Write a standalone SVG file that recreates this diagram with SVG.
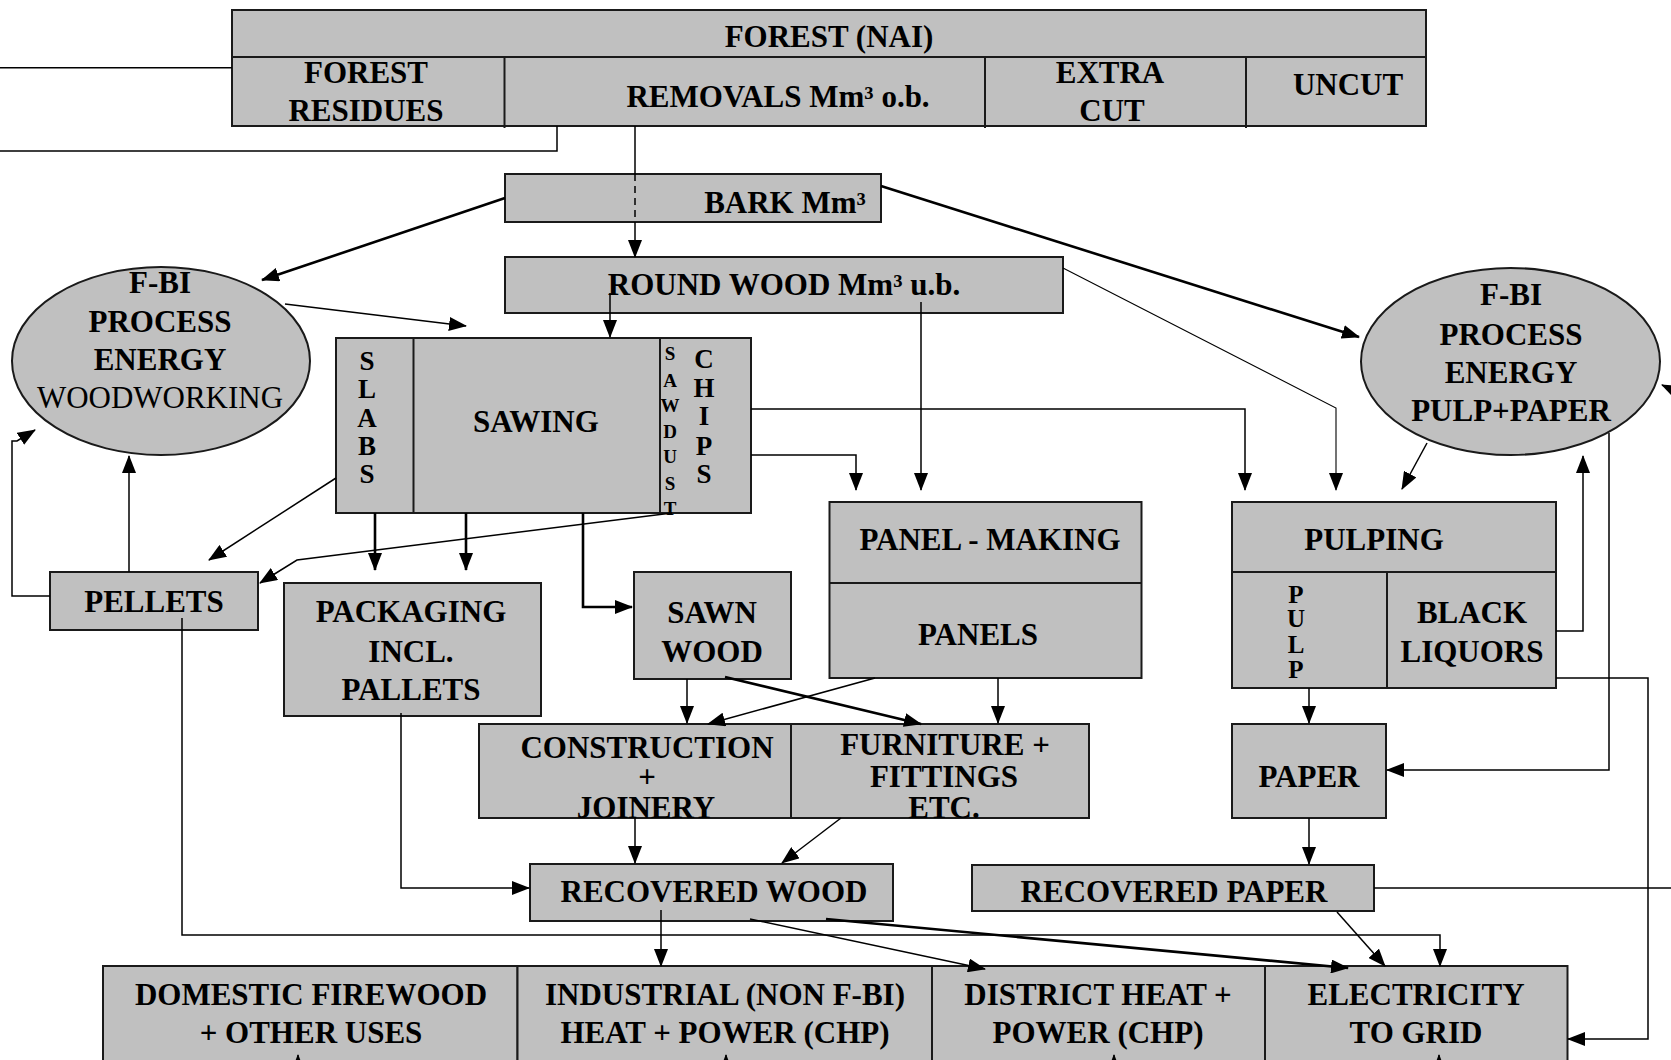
<svg xmlns="http://www.w3.org/2000/svg" width="1671" height="1060" viewBox="0 0 1671 1060">
<style>
.bx{fill:#c0c0c0;stroke:#1a1a1a;stroke-width:2}
.dv{stroke:#1a1a1a;stroke-width:2;fill:none}
text{font-family:"Liberation Serif","Times New Roman",serif;font-weight:bold;font-size:31px;fill:#000;text-anchor:middle}
.rg{font-weight:normal}
.sm{font-size:27px}
.xs{font-size:19px}
.pl{font-size:25px}
.c{stroke:#000;stroke-width:1.5;fill:none}
.t{stroke-width:2.6}
.th{stroke-width:1.1}
.a{marker-end:url(#ah)}
</style>
<defs>
<marker id="ah" markerUnits="userSpaceOnUse" markerWidth="18" markerHeight="14" refX="17" refY="7" orient="auto"><path d="M0,0 L18,7 L0,14 z" fill="#000"/></marker>
</defs>
<rect width="1671" height="1060" fill="#fff"/>

<g id="forest">
<rect class="bx" x="232" y="10" width="1194" height="116"/>
<line class="dv" x1="232" y1="57" x2="1426" y2="57"/>
<line class="dv" x1="504.5" y1="57" x2="504.5" y2="128"/>
<line class="dv" x1="985" y1="57" x2="985" y2="128"/>
<line class="dv" x1="1246" y1="57" x2="1246" y2="128"/>
<text x="829" y="47">FOREST (NAI)</text>
<text x="366" y="83">FOREST</text>
<text x="366" y="121">RESIDUES</text>
<text x="778" y="107">REMOVALS Mm³ o.b.</text>
<text x="1110" y="83">EXTRA</text>
<text x="1112" y="121">CUT</text>
<text x="1348" y="95">UNCUT</text>
</g>

<g id="bark">
<rect class="bx" x="505" y="174" width="376" height="48"/>
<text x="785" y="213">BARK Mm³</text>
</g>

<g id="roundwood">
<rect class="bx" x="505" y="257" width="558" height="56"/>
<text x="784" y="295">ROUND WOOD Mm³ u.b.</text>
</g>

<g id="energy-woodworking">
<ellipse class="bx" cx="161" cy="361" rx="149" ry="94"/>
<text x="160" y="293">F-BI</text>
<text x="160" y="332">PROCESS</text>
<text x="160" y="370">ENERGY</text>
<text class="rg" x="160" y="408">WOODWORKING</text>
</g>

<g id="energy-pulp">
<ellipse class="bx" cx="1510.5" cy="361.5" rx="149.5" ry="93.5"/>
<text x="1511" y="305">F-BI</text>
<text x="1511" y="345">PROCESS</text>
<text x="1511" y="383">ENERGY</text>
<text x="1511" y="421">PULP+PAPER</text>
</g>

<g id="sawing">
<rect class="bx" x="336" y="338" width="415" height="175"/>
<line class="dv" x1="413.5" y1="338" x2="413.5" y2="513"/>
<line class="dv" x1="660" y1="338" x2="660" y2="513"/>
<text x="536" y="432">SAWING</text>
<text class="sm" x="367" y="370">S</text>
<text class="sm" x="367" y="398">L</text>
<text class="sm" x="367" y="427">A</text>
<text class="sm" x="367" y="455">B</text>
<text class="sm" x="367" y="483">S</text>
<text class="xs" x="670" y="360">S</text>
<text class="xs" x="670" y="387">A</text>
<text class="xs" x="670" y="412">W</text>
<text class="xs" x="670" y="438">D</text>
<text class="xs" x="670" y="463">U</text>
<text class="xs" x="670" y="490">S</text>
<text class="xs" x="670" y="515">T</text>
<text class="sm" x="704" y="368">C</text>
<text class="sm" x="704" y="397">H</text>
<text class="sm" x="704" y="425">I</text>
<text class="sm" x="704" y="455">P</text>
<text class="sm" x="704" y="483">S</text>
</g>

<g id="panels">
<rect class="bx" x="829.5" y="502" width="312" height="176"/>
<line class="dv" x1="829.5" y1="583" x2="1141.5" y2="583"/>
<text x="990" y="550">PANEL - MAKING</text>
<text x="978" y="645">PANELS</text>
</g>

<g id="pulping">
<rect class="bx" x="1232" y="502" width="324" height="186"/>
<line class="dv" x1="1232" y1="572" x2="1556" y2="572"/>
<line class="dv" x1="1387" y1="572" x2="1387" y2="688"/>
<text x="1374" y="550">PULPING</text>
<text class="pl" x="1296" y="603">P</text>
<text class="pl" x="1296" y="627">U</text>
<text class="pl" x="1296" y="653">L</text>
<text class="pl" x="1296" y="678">P</text>
<text x="1472" y="623">BLACK</text>
<text x="1472" y="662">LIQUORS</text>
</g>

<g id="pellets">
<rect class="bx" x="50" y="572" width="208" height="58"/>
<text x="154" y="612">PELLETS</text>
</g>

<g id="packaging">
<rect class="bx" x="284" y="583" width="257" height="133"/>
<text x="411" y="622">PACKAGING</text>
<text x="411" y="662">INCL.</text>
<text x="411" y="700">PALLETS</text>
</g>

<g id="sawnwood">
<rect class="bx" x="634" y="572" width="157" height="107"/>
<text x="712" y="623">SAWN</text>
<text x="712" y="662">WOOD</text>
</g>

<g id="construction">
<rect class="bx" x="479" y="724" width="312" height="94"/>
<text x="647" y="758">CONSTRUCTION</text>
<text x="647" y="787">+</text>
<text x="646" y="818">JOINERY</text>
</g>

<g id="furniture">
<rect class="bx" x="791" y="724" width="298" height="94"/>
<text x="945" y="755">FURNITURE +</text>
<text x="944" y="787">FITTINGS</text>
<text x="944" y="818">ETC.</text>
</g>

<g id="paper">
<rect class="bx" x="1232" y="724" width="154" height="94"/>
<text x="1309" y="787">PAPER</text>
</g>

<g id="recoveredwood">
<rect class="bx" x="530" y="864" width="363" height="57"/>
<text x="714" y="902">RECOVERED WOOD</text>
</g>

<g id="recoveredpaper">
<rect class="bx" x="972" y="865" width="402" height="46"/>
<text x="1174" y="902">RECOVERED PAPER</text>
</g>

<g id="domestic">
<rect class="bx" x="103" y="966" width="414.5" height="110"/>
<text x="311" y="1005">DOMESTIC FIREWOOD</text>
<text x="311" y="1043">+ OTHER USES</text>
</g>
<g id="industrial">
<rect class="bx" x="517.5" y="966" width="414.5" height="110"/>
<text x="725" y="1005">INDUSTRIAL (NON F-BI)</text>
<text x="725" y="1043">HEAT + POWER (CHP)</text>
</g>
<g id="district">
<rect class="bx" x="932" y="966" width="333" height="110"/>
<text x="1098" y="1005">DISTRICT HEAT +</text>
<text x="1098" y="1043">POWER (CHP)</text>
</g>
<g id="electricity">
<rect class="bx" x="1265" y="966" width="302.5" height="110"/>
<text x="1416" y="1005">ELECTRICITY</text>
<text x="1416" y="1043">TO GRID</text>
</g>

<g id="connectors">
<line class="c" x1="0" y1="67.7" x2="232" y2="67.7"/>
<polyline class="c" points="557,126 557,151 0,151"/>
<line class="c" x1="635" y1="126" x2="635" y2="174"/>
<line class="c" x1="635" y1="174" x2="635" y2="222" stroke-dasharray="7,5"/>
<line class="c a" x1="635" y1="222" x2="635" y2="257"/>
<line class="c t a" x1="505" y1="198" x2="262" y2="280"/>
<line class="c t a" x1="881" y1="186" x2="1359" y2="337"/>
<polyline class="c th a" points="1063,268 1336,408 1336,490"/>
<line class="c a" x1="921" y1="302" x2="921" y2="490"/>
<line class="c a" x1="610" y1="293" x2="610" y2="337"/>
<line class="c a" x1="285" y1="304" x2="466" y2="326"/>
<polyline class="c a" points="751,409 1245,409 1245,490"/>
<polyline class="c a" points="751,455 856,455 856,490"/>
<line class="c a" x1="336" y1="478" x2="209" y2="560"/>
<polyline class="c a" points="672,513 297,560 260,583"/>
<line class="c t a" x1="375" y1="513" x2="375" y2="570"/>
<line class="c t a" x1="466" y1="513" x2="466" y2="570"/>
<polyline class="c t a" points="583,513 583,607 632,607"/>
<line class="c a" x1="129" y1="572" x2="129" y2="456"/>
<polyline class="c a" points="50,596 12,596 12,441 17,441 35,430"/>
<polyline class="c a" points="182,618 182,935 1440,935 1440,966"/>
<polyline class="c a" points="401,713 401,888 529,888"/>
<line class="c a" x1="687" y1="679" x2="687" y2="723"/>
<line class="c t a" x1="725" y1="677" x2="921" y2="724"/>
<line class="c a" x1="875" y1="678" x2="708" y2="724"/>
<line class="c a" x1="998" y1="678" x2="998" y2="723"/>
<line class="c a" x1="635" y1="818" x2="635" y2="863"/>
<line class="c a" x1="841" y1="818" x2="782" y2="863"/>
<line class="c a" x1="661" y1="910" x2="661" y2="966"/>
<line class="c a" x1="750" y1="919" x2="985" y2="969"/>
<line class="c t a" x1="826" y1="919" x2="1348" y2="968"/>
<line class="c a" x1="1337" y1="912" x2="1385" y2="966"/>
<line class="c" x1="1374" y1="888" x2="1671" y2="888"/>
<line class="c a" x1="1309" y1="688" x2="1309" y2="723"/>
<line class="c a" x1="1309" y1="818" x2="1309" y2="864"/>
<line class="c a" x1="1427" y1="443" x2="1402" y2="489"/>
<polyline class="c a" points="1556,631 1583,631 1583,456"/>
<polyline class="c a" points="1609,433 1609,770 1387,770"/>
<polyline class="c a" points="1556,678 1648,678 1648,1039 1568,1039"/>
<line class="c a" x1="1690" y1="398" x2="1662" y2="385"/>
<line class="c a" x1="298" y1="1080" x2="298" y2="1055"/>
<line class="c a" x1="726" y1="1080" x2="726" y2="1055"/>
<line class="c a" x1="1114" y1="1080" x2="1114" y2="1055"/>
<line class="c a" x1="1439" y1="1080" x2="1439" y2="1055"/>
</g>
</svg>
